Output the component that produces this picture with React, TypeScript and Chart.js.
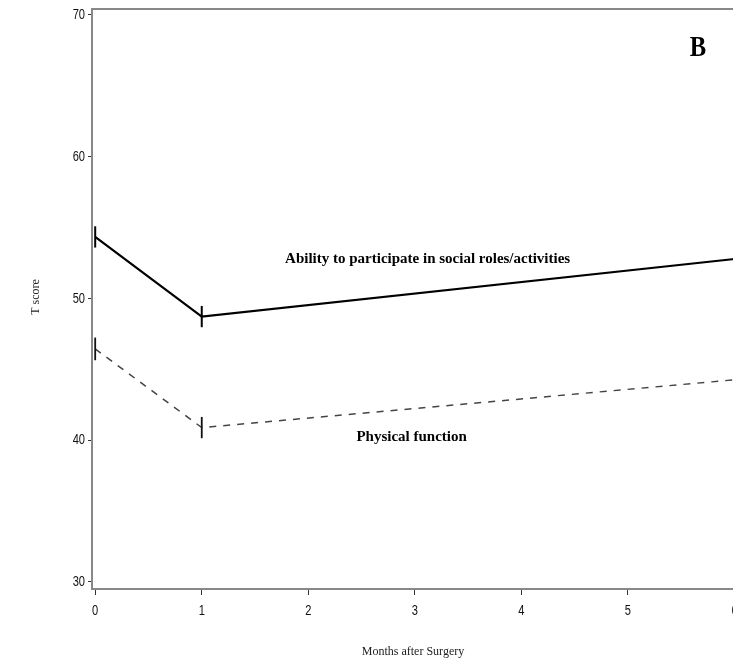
import React, { useEffect, useRef } from "react";
import { Chart, registerables } from "chart.js";

Chart.register(...registerables);

// Months after surgery at which T scores were measured
const months = [0, 1, 6];

// Mean T scores
const socialRoles = [54.34, 48.72, 52.78];
const physicalFunction = [46.44, 40.89, 44.26];

// Half-width of the vertical error markers (T score units)
const socialErr = [0.75, 0.75, 0.75];
const physicalErr = [0.8, 0.75, 0.75];

// Axis ticks
const xTicks = [0, 1, 2, 3, 4, 5, 6];
const yTicks = [30, 40, 50, 60, 70];

const sans = "'Liberation Sans', Arial, sans-serif";
const serif = "'Liberation Serif', 'DejaVu Serif', serif";

const errorBars = {
  id: "errorBars",
  afterDatasetsDraw(chart: any) {
    const { ctx, scales } = chart;
    chart.data.datasets.forEach((ds: any) => {
      if (!ds.err) return;
      ctx.save();
      ctx.strokeStyle = ds.errColor;
      ctx.lineWidth = ds.errWidth;
      ctx.setLineDash([]);
      ds.data.forEach((p: any, i: number) => {
        const x = scales.x.getPixelForValue(p.x);
        const y1 = scales.y.getPixelForValue(p.y - ds.err[i]);
        const y2 = scales.y.getPixelForValue(p.y + ds.err[i]);
        ctx.beginPath();
        ctx.moveTo(x, y1);
        ctx.lineTo(x, y2);
        ctx.stroke();
      });
      ctx.restore();
    });
  },
};

// Narrow tick labels, placed from the scales' own ticks
const narrowTickLabels = {
  id: "narrowTickLabels",
  afterDraw(chart: any) {
    const { ctx, scales } = chart;
    ctx.save();
    ctx.fillStyle = "#111";
    ctx.font = `15px ${sans}`;
    ctx.textBaseline = "middle";
    const squeeze = 0.74;
    scales.y.ticks.forEach((t: any) => {
      const y = scales.y.getPixelForValue(t.value);
      ctx.save();
      ctx.translate(85, y);
      ctx.scale(squeeze, 1);
      ctx.textAlign = "right";
      ctx.fillText(String(t.value), 0, 0);
      ctx.restore();
    });
    scales.x.ticks.forEach((t: any) => {
      const x = scales.x.getPixelForValue(t.value);
      ctx.save();
      ctx.translate(x, scales.x.top + 22);
      ctx.scale(squeeze, 1);
      ctx.textAlign = "center";
      ctx.fillText(String(t.value), 0, 0);
      ctx.restore();
    });
    ctx.restore();
  },
};

const decorations = {
  id: "decorations",
  afterDraw(chart: any) {
    const { ctx, scales, chartArea } = chart;
    ctx.save();
    // top frame line
    ctx.strokeStyle = "#888";
    ctx.lineWidth = 2;
    ctx.beginPath();
    ctx.moveTo(chartArea.left, chartArea.top);
    ctx.lineTo(chart.width, chartArea.top);
    ctx.stroke();

    ctx.fillStyle = "#000";
    ctx.textAlign = "center";
    ctx.textBaseline = "middle";

    // series labels
    ctx.font = `bold 15px ${serif}`;
    ctx.fillText(
      "Ability to participate in social roles/activities",
      scales.x.getPixelForValue(3.12),
      scales.y.getPixelForValue(52.79)
    );
    ctx.fillText(
      "Physical function",
      scales.x.getPixelForValue(2.97),
      scales.y.getPixelForValue(40.23)
    );

    // panel letter
    ctx.save();
    ctx.translate(698, 48);
    ctx.scale(0.82, 1);
    ctx.font = `bold 30px ${serif}`;
    ctx.fillText("B", 0, 0);
    ctx.restore();

    // axis titles
    ctx.fillStyle = "#222";
    ctx.font = `12px ${serif}`;
    ctx.fillText("Months after Surgery", 413, 652);
    ctx.save();
    ctx.translate(36, 297);
    ctx.rotate(-Math.PI / 2);
    ctx.fillText("T score", 0, 0);
    ctx.restore();
    ctx.restore();
  },
};

export default function App() {
  const ref = useRef<HTMLCanvasElement>(null);

  useEffect(() => {
    document.body.style.margin = "0";
    const chart = new Chart(ref.current!, {
      type: "line",
      data: {
        datasets: [
          {
            label: "Ability to participate in social roles/activities",
            data: months.map((m, i) => ({ x: m, y: socialRoles[i] })),
            borderColor: "#000",
            borderWidth: 2.2,
            pointRadius: 0,
            tension: 0,
            err: socialErr,
            errColor: "#000",
            errWidth: 2,
          } as any,
          {
            label: "Physical function",
            data: months.map((m, i) => ({ x: m, y: physicalFunction[i] })),
            borderColor: "#444",
            borderWidth: 1.5,
            borderDash: [7, 7],
            pointRadius: 0,
            tension: 0,
            err: physicalErr,
            errColor: "#111",
            errWidth: 1.8,
          } as any,
        ],
      },
      options: {
        animation: false,
        responsive: false,
        devicePixelRatio: 1,
        layout: { padding: { top: 9, right: 25.5, left: 0, bottom: 0 } },
        plugins: { legend: { display: false }, tooltip: { enabled: false } },
        scales: {
          x: {
            type: "linear",
            min: -0.03,
            max: 6,
            afterBuildTicks: (s: any) => {
              s.ticks = xTicks.map((v) => ({ value: v }));
            },
            afterFit: (s: any) => {
              s.height = 74;
            },
            grid: {
              drawOnChartArea: false,
              drawTicks: true,
              tickLength: 6,
              color: "#333",
            },
            border: { display: true, color: "#888", width: 2 },
            ticks: { display: false },
          },
          y: {
            type: "linear",
            min: 29.5,
            max: 70.42,
            afterBuildTicks: (s: any) => {
              s.ticks = yTicks.map((v) => ({ value: v }));
            },
            afterFit: (s: any) => {
              s.width = 92;
            },
            grid: {
              drawOnChartArea: false,
              drawTicks: true,
              tickLength: 4,
              color: "#333",
            },
            border: { display: true, color: "#888", width: 2 },
            ticks: { display: false },
          },
        },
      },
      plugins: [errorBars, narrowTickLabels, decorations],
    });
    return () => chart.destroy();
  }, []);

  return (
    <div
      style={{
        position: "fixed",
        left: 0,
        top: 0,
        width: 733,
        height: 663,
        overflow: "hidden",
        background: "#fff",
      }}
    >
      <canvas ref={ref} width={760} height={663} style={{ display: "block", width: 760, height: 663 }} />
    </div>
  );
}
